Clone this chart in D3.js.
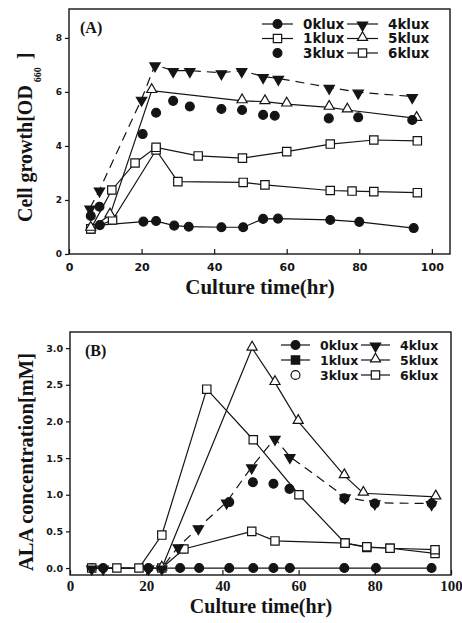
<!DOCTYPE html>
<html><head><meta charset="utf-8">
<script src="https://cdn.jsdelivr.net/npm/d3@7"></script>
<style>body{margin:0;background:#fff}</style></head><body>
<svg id="c" width="462" height="623"></svg>
<script>
// ---------- Panel A data: cell growth OD660 ----------
const a0klux = [[6,0.95],[8.5,1.07],[20.5,1.2],[24,1.22],[29,1.05],[33,1.01],[42,0.99],[48,0.99],[53.5,1.3],[57.6,1.31],[72,1.26],[80,1.19],[95,0.96]];
const a1klux = [[6,0.93],[12,1.26],[24,3.85],[30,2.68],[48,2.65],[54,2.56],[72,2.35],[78,2.33],[84,2.31],[96,2.27]];
const a3klux = [[6,1.41],[8.4,1.75],[20.3,4.44],[24,5.23],[28.7,5.67],[33.3,5.46],[42,5.37],[47.7,5.33],[53.5,5.15],[56.7,5.12],[71.6,5.02],[79.7,5.06],[94.6,4.96]];
const a4klux = [[5.8,1.7],[8.4,2.37],[20,5.73],[23.7,7.0],[28.7,6.79],[33.3,6.79],[42,6.71],[47.6,6.79],[53.5,6.57],[57.7,6.5],[71.7,6.17],[79.7,5.99],[94.6,5.83]];
const a5klux = [[6,0.95],[11.3,1.44],[22.8,6.05],[47.7,5.67],[54,5.64],[60,5.55],[71.7,5.43],[76.7,5.33],[95.8,5.02]];
const a6klux = [[6,0.93],[11.8,2.37],[18.2,3.37],[24,3.95],[35.6,3.63],[47.8,3.55],[60,3.79],[72,4.07],[84,4.22],[96,4.19]];

// ---------- Panel B data: ALA concentration mM ----------
const b0klux = [[5.7,0],[8.7,0],[20.6,0],[28.9,0],[33.9,0],[41.8,0],[48.1,0],[53.4,0],[57.7,0],[72,0],[80.3,0],[94.9,0]];
const b1klux = [[24.1,0],[29.9,0.26],[47.7,0.5],[53.8,0.37],[72.2,0.34],[77.9,0.29],[84,0.27],[95.8,0.25]];
const b3klux = [[41.8,0.9],[48,1.17],[53.4,1.15],[57.6,1.08],[72,0.95],[80,0.88],[94.9,0.88]];
const b4klux = [[5.7,0],[8.7,0],[20.6,0],[24.1,0],[28.4,0.29],[33.7,0.55],[41.1,0.9],[47.7,1.38],[53.8,1.77],[57.7,1.52],[72.2,0.97],[80,0.89],[94.9,0.88]];
const b5klux = [[24.1,0],[47.8,3.0],[53.8,2.53],[59.9,2.0],[72,1.26],[77,1.02],[96,0.97]];
const b6klux = [[5.7,0],[12.3,0],[18.1,0],[24.1,0.45],[35.9,2.44],[48.1,1.75],[60.1,1.0],[72.2,0.34],[77.9,0.28],[84,0.27],[95.8,0.2]];

// ---------- labels / ticks ----------
const seriesNames = ["0klux","1klux","3klux","4klux","5klux","6klux"];
const xTicks = [0,20,40,60,80,100];
const yTicksA = [0,2,4,6,8];
const yTicksB = [0,0.5,1.0,1.5,2.0,2.5,3.0];

const INK = "#141414";
const svg = d3.select("#c");

function drawMarker(g, kind, filled, x, y) {
  const types = {circle: d3.symbolCircle, square: d3.symbolSquare, tri: d3.symbolTriangle, triDown: d3.symbolTriangle};
  const sizes = {circle: 62, square: 70, tri: 44, triDown: 46};
  let tr = `translate(${x},${y})`;
  if (kind === "tri") tr += " translate(0,-1)";
  if (kind === "triDown") tr += " translate(0,1) rotate(180)";
  g.append("path")
    .attr("d", d3.symbol().type(types[kind]).size(sizes[kind])())
    .attr("transform", tr)
    .attr("fill", filled ? INK : "#fff")
    .attr("stroke", INK).attr("stroke-width", 1.2);
}

function drawPanel(cfg) {
  const {x, y, frame, series, legend, legendPos, label, labelPos} = cfg;
  const g = svg.append("g");
  g.append("rect").attr("x", frame[0]).attr("y", frame[1])
    .attr("width", frame[2]-frame[0]).attr("height", frame[3]-frame[1])
    .attr("fill", "none").attr("stroke", INK).attr("stroke-width", 1.4);
  const xa = g.append("g").attr("transform", `translate(0,${frame[3]})`)
    .call(d3.axisBottom(x).tickValues(xTicks).tickSizeInner(-5).tickSizeOuter(0).tickPadding(cfg.xPad));
  xa.select(".domain").remove();
  xa.selectAll("line").attr("stroke", INK).attr("stroke-width", 1.2);
  xa.selectAll("text").attr("fill", INK).attr("font-family", cfg.xFont).attr("font-weight", "bold").attr("font-size", cfg.xFontSize);
  const ya = g.append("g").attr("transform", `translate(${frame[0]},0)`)
    .call(d3.axisLeft(y).tickValues(cfg.yTicks).tickFormat(cfg.yFormat).tickSizeInner(4).tickSizeOuter(0).tickPadding(3));
  ya.select(".domain").remove();
  ya.selectAll("line").attr("stroke", INK).attr("stroke-width", 1.2);
  ya.selectAll("text").attr("fill", INK).attr("font-family", "DejaVu Sans").attr("font-weight", "bold").attr("font-size", cfg.yFontSize);

  const line = d3.line().x(d => x(d[0])).y(d => y(d[1]));
  series.forEach(s => {
    if (!s.line) return;
    g.append("path").attr("d", line(s.data)).attr("fill", "none")
      .attr("stroke", INK).attr("stroke-width", 1.2)
      .attr("stroke-dasharray", s.dash ? "9,6" : null);
  });
  series.forEach(s => {
    s.data.forEach(d => drawMarker(g, s.kind, s.filled, x(d[0]), y(d[1])));
  });

  legend.forEach((L, i) => {
    const col = Math.floor(i / 3), row = i % 3;
    const lx = legendPos.cols[col], ly = legendPos.y0 + row * legendPos.dy;
    if (L.line) {
      g.append("line").attr("x1", lx).attr("x2", lx + legendPos.len).attr("y1", ly).attr("y2", ly)
        .attr("stroke", INK).attr("stroke-width", 1.2);
    }
    drawMarker(g, L.kind, L.filled, lx + legendPos.len / 2, ly);
    g.append("text").attr("x", lx + legendPos.len + legendPos.gap).attr("y", ly + 4.5)
      .attr("font-family", "DejaVu Sans").attr("font-weight", "bold").attr("font-size", legendPos.fs)
      .attr("fill", INK).text(L.name);
  });

  g.append("text").attr("x", labelPos[0]).attr("y", labelPos[1])
    .attr("font-family", "Liberation Serif").attr("font-weight", "bold").attr("font-size", 16)
    .attr("fill", INK).text(label);
}

// ---------- Panel A ----------
const xA = d3.scaleLinear().domain([0, 105]).range([69, 450]);
const yA = d3.scaleLinear().domain([0, 9.07]).range([254, 9]);
const seriesA = [
  {data: a0klux, kind: "circle", filled: true, line: true},
  {data: a1klux, kind: "square", filled: false, line: true},
  {data: a6klux, kind: "square", filled: false, line: true},
  {data: a5klux, kind: "tri", filled: false, line: true},
  {data: a4klux, kind: "triDown", filled: true, line: true, dash: true},
  {data: a3klux, kind: "circle", filled: true, line: false}
];
const legendA = [
  {name: seriesNames[0], kind: "circle", filled: true, line: true},
  {name: seriesNames[1], kind: "square", filled: false, line: true},
  {name: seriesNames[2], kind: "circle", filled: true, line: false},
  {name: seriesNames[3], kind: "triDown", filled: true, line: true},
  {name: seriesNames[4], kind: "tri", filled: false, line: true},
  {name: seriesNames[5], kind: "square", filled: false, line: true}
];
drawPanel({x: xA, y: yA, frame: [69, 9, 450, 254], series: seriesA, legend: legendA,
  legendPos: {cols: [262, 347], y0: 24, dy: 14.5, len: 31, gap: 10, fs: 13.5},
  label: "(A)", labelPos: [80, 33], yTicks: yTicksA, yFormat: d3.format("d"),
  xFont: "DejaVu Sans", xFontSize: 11, xPad: 9, yFontSize: 9});

// ---------- Panel B ----------
const xB = d3.scaleLinear().domain([0, 100]).range([70, 451]);
const yB = d3.scaleLinear().domain([-0.095, 3.22]).range([575, 332]);
const seriesB = [
  {data: b0klux, kind: "circle", filled: true, line: true},
  {data: b6klux, kind: "square", filled: false, line: true},
  {data: b1klux, kind: "square", filled: false, line: true},
  {data: b5klux, kind: "tri", filled: false, line: true},
  {data: b4klux, kind: "triDown", filled: true, line: true, dash: true},
  {data: b3klux, kind: "circle", filled: true, line: false}
];
const legendB = [
  {name: seriesNames[0], kind: "circle", filled: true, line: true},
  {name: seriesNames[1], kind: "square", filled: true, line: true},
  {name: seriesNames[2], kind: "circle", filled: false, line: false},
  {name: seriesNames[3], kind: "triDown", filled: true, line: true},
  {name: seriesNames[4], kind: "tri", filled: false, line: true},
  {name: seriesNames[5], kind: "square", filled: false, line: true}
];
drawPanel({x: xB, y: yB, frame: [70, 332, 451, 575], series: seriesB, legend: legendB,
  legendPos: {cols: [281, 361], y0: 345, dy: 15, len: 29, gap: 10, fs: 12.5},
  label: "(B)", labelPos: [85, 356], yTicks: yTicksB, yFormat: d3.format(".1f"),
  xFont: "Liberation Serif", xFontSize: 15, xPad: 5, yFontSize: 9.5});

// ---------- axis titles ----------
const serif = "Liberation Serif";
svg.append("text").attr("x", 260).attr("y", 294).attr("text-anchor", "middle")
  .attr("font-family", serif).attr("font-weight", "bold").attr("font-size", 21).attr("fill", INK)
  .text("Culture time(hr)");
svg.append("text").attr("x", 261).attr("y", 613).attr("text-anchor", "middle")
  .attr("font-family", serif).attr("font-weight", "bold").attr("font-size", 20).attr("fill", INK)
  .text("Culture time(hr)");

const tA = svg.append("text").attr("transform", "translate(32,222) rotate(-90)")
  .attr("font-family", serif).attr("font-weight", "bold").attr("font-size", 20).attr("fill", INK);
tA.append("tspan").text("Cell growth[OD");
tA.append("tspan").attr("font-size", 10).attr("dx", 3).attr("dy", 9).text("660");
tA.append("tspan").attr("dx", 8).attr("dy", -9).text("]");

svg.append("text").attr("transform", "translate(33,462) rotate(-90)").attr("text-anchor", "middle")
  .attr("font-family", serif).attr("font-weight", "bold").attr("font-size", 20.5).attr("fill", INK)
  .text("ALA concentration[mM]");
</script></body></html>
